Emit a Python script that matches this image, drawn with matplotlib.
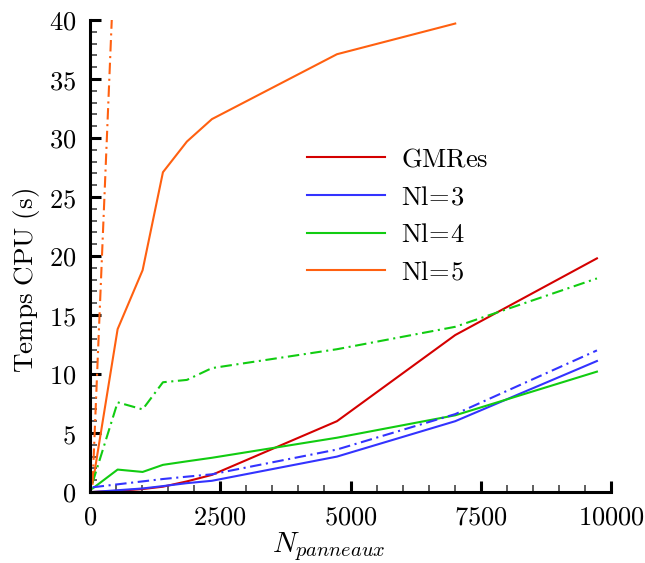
import matplotlib
matplotlib.use("Agg")
import matplotlib.pyplot as plt
from matplotlib.ticker import MultipleLocator

plt.rcParams['mathtext.fontset'] = 'cm'
plt.rcParams['font.family'] = ['DejaVu Serif']

# Data
N = [50, 530, 1010, 1400, 1860, 2340, 4740, 7010, 9730]
gmres = [0.0, 0.1, 0.25, 0.45, 0.9, 1.45, 6.0, 13.3, 19.8]
nl3 = [0.0, 0.15, 0.3, 0.5, 0.75, 0.95, 3.0, 6.0, 11.1]
nl3_b = [0.4, 0.65, 0.9, 1.1, 1.3, 1.5, 3.6, 6.6, 12.0]
nl4 = [0.3, 1.9, 1.7, 2.3, 2.6, 2.9, 4.6, 6.5, 10.2]
nl4_b = [0.8, 7.6, 7.0, 9.3, 9.5, 10.5, 12.1, 14.0, 18.1]
N5 = [50, 530, 1010, 1400, 1860, 2340, 4740, 7010]
nl5 = [0.7, 13.8, 18.8, 27.1, 29.7, 31.6, 37.1, 39.7]
N5_b = [50, 530]
nl5_b = [0.8, 52.0]

xticks = [0, 2500, 5000, 7500, 10000]
yticks = list(range(0, 41, 5))
colors = ['#d40000', '#3333ff', '#11cc11', '#ff6010']

fig = plt.figure(figsize=(6.45, 5.63), dpi=100)
ax = fig.add_axes([90/645, 1-492/563, (611-90)/645, (492-20)/563])

lw = 1.5
dd = (0, (5.5, 2.2, 1, 2.2))
ax.plot(N, gmres, color=colors[0], lw=lw, label=r'$\mathrm{GMRes}$')
ax.plot(N, nl3, color=colors[1], lw=lw, label=r'$\mathrm{Nl\!=\!3}$')
ax.plot(N, nl4, color=colors[2], lw=lw, label=r'$\mathrm{Nl\!=\!4}$')
ax.plot(N5, nl5, color=colors[3], lw=lw, label=r'$\mathrm{Nl\!=\!5}$')
ax.plot(N, nl3_b, color=colors[1], lw=lw, ls=dd)
ax.plot(N, nl4_b, color=colors[2], lw=lw, ls=dd)
ax.plot(N5_b, nl5_b, color=colors[3], lw=lw, ls=dd)

ax.set_xlim(0, 10000)
ax.set_ylim(0, 40)
ax.xaxis.set_minor_locator(MultipleLocator(500))
ax.yaxis.set_minor_locator(MultipleLocator(1))

for s in ['top', 'right']:
    ax.spines[s].set_visible(False)
for s in ['left', 'bottom']:
    ax.spines[s].set_linewidth(2.2)

ax.tick_params(which='major', direction='in', length=8, width=2.2, labelsize=19)
ax.tick_params(axis='y', which='major', pad=10)
ax.tick_params(axis='x', which='major', pad=9)
ax.tick_params(which='minor', direction='in', length=5, width=1.1, color='#333333')

ax.set_xticks(xticks)
ax.set_xticklabels([r'$%d$' % v for v in xticks])
ax.set_yticks(yticks)
ax.set_yticklabels([r'$%d$' % v for v in yticks])

fig.text(329/645, 1-552/563, r'$N_{panneaux}$', fontsize=21, ha='center', va='baseline')
fig.text(27/645, 1-280/563, r'$\mathrm{Temps\ CPU\ (s)}$', fontsize=19.5,
         ha='center', va='center', rotation=90)

leg = ax.legend(loc='upper left', bbox_to_anchor=(289/645, 1-128/563),
                bbox_transform=fig.transFigure, frameon=False, fontsize=19,
                handlelength=2.95, handletextpad=0.6, labelspacing=0.48,
                borderpad=0.2)

fig.savefig('out.png', dpi=100)
